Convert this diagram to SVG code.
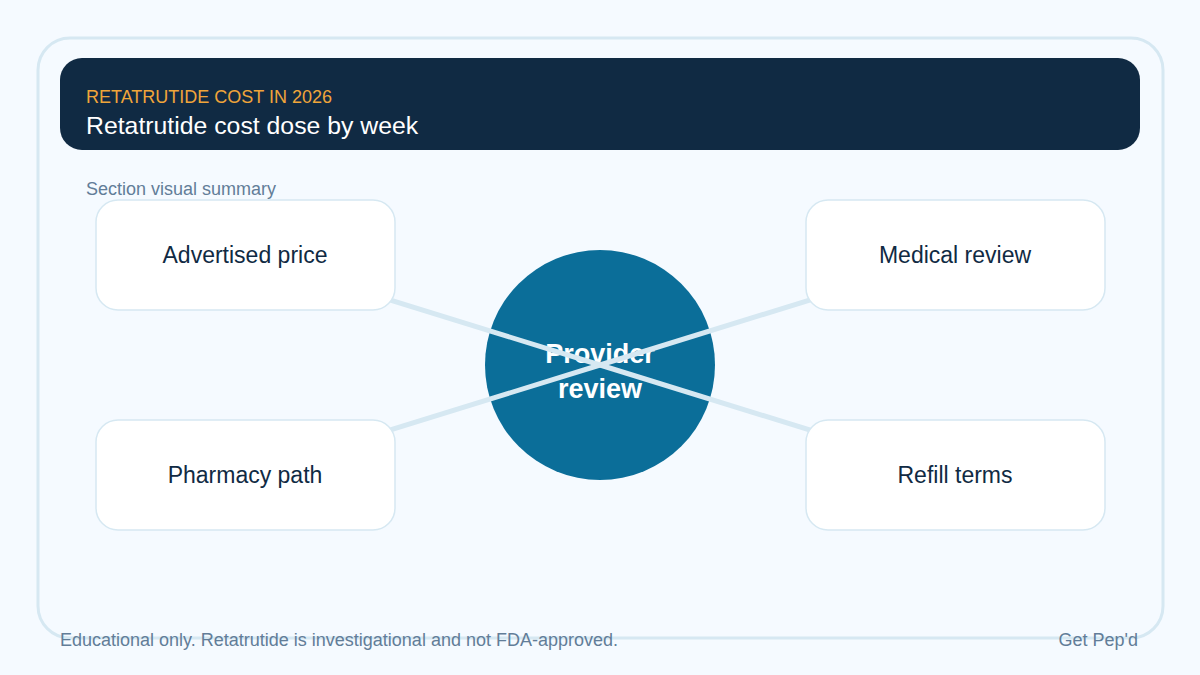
<svg xmlns="http://www.w3.org/2000/svg" width="1200" height="675" viewBox="0 0 1200 675">
<style>
text{font-family:"Liberation Sans",Arial,sans-serif}
.box{fill:#ffffff;stroke:#d6e8f2;stroke-width:1.5}
.lbl{font-size:23px;fill:#102a43;text-anchor:middle}
.conn{stroke:#d6e8f2;stroke-width:5;fill:none}
.muted{fill:#627d98;font-size:18px}
</style>
<rect x="0" y="0" width="1200" height="675" fill="#f5faff"/>
<rect x="38" y="38" width="1125" height="600" rx="32" fill="#f5faff" stroke="#d6e8f2" stroke-width="3"/>
<g id="header">
<rect x="60" y="58" width="1080" height="92" rx="22" fill="#102a43"/>
<text x="86" y="103" font-size="18" fill="#f0a53a">RETATRUTIDE COST IN 2026</text>
<text x="86" y="134" font-size="24.8" fill="#ffffff">Retatrutide cost dose by week</text>
</g>
<text class="muted" x="86" y="195">Section visual summary</text>
<g id="center">
<circle cx="600" cy="365" r="115" fill="#0b6e99"/>
<text x="600" y="363" font-size="27" font-weight="bold" fill="#ffffff" text-anchor="middle">Provider</text>
<text x="600" y="398" font-size="27" font-weight="bold" fill="#ffffff" text-anchor="middle">review</text>
</g>
<g id="connectors">
<line class="conn" x1="600" y1="365" x2="245" y2="255"/>
<line class="conn" x1="600" y1="365" x2="955" y2="255"/>
<line class="conn" x1="600" y1="365" x2="245" y2="475"/>
<line class="conn" x1="600" y1="365" x2="955" y2="475"/>
</g>
<g id="advertised-price">
<rect class="box" x="96" y="200" width="299" height="110" rx="22"/>
<text class="lbl" x="245" y="263">Advertised price</text>
</g>
<g id="medical-review">
<rect class="box" x="806" y="200" width="299" height="110" rx="22"/>
<text class="lbl" x="955" y="263">Medical review</text>
</g>
<g id="pharmacy-path">
<rect class="box" x="96" y="420" width="299" height="110" rx="22"/>
<text class="lbl" x="245" y="483">Pharmacy path</text>
</g>
<g id="refill-terms">
<rect class="box" x="806" y="420" width="299" height="110" rx="22"/>
<text class="lbl" x="955" y="483">Refill terms</text>
</g>
<text class="muted" x="60" y="646">Educational only. Retatrutide is investigational and not FDA-approved.</text>
<text class="muted" x="1138" y="646" text-anchor="end">Get Pep'd</text>
</svg>
